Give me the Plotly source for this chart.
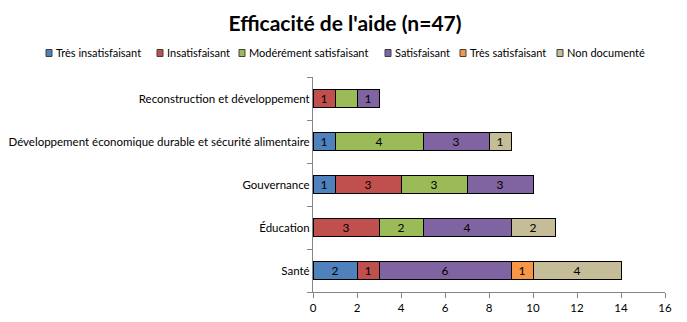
import plotly.graph_objects as go

# Data
categories = [
    "Santé",
    "Éducation",
    "Gouvernance",
    "Développement économique durable et sécurité alimentaire",
    "Reconstruction et développement",
]
series_names = [
    "Très insatisfaisant",
    "Insatisfaisant",
    "Modérément satisfaisant",
    "Satisfaisant",
    "Très satisfaisant",
    "Non documenté",
]
tres_insatisfaisant = [2, 0, 1, 1, 0]
insatisfaisant = [1, 3, 3, 0, 1]
moderement_satisfaisant = [0, 2, 3, 4, 1]
satisfaisant = [6, 4, 3, 3, 1]
tres_satisfaisant = [1, 0, 0, 0, 0]
non_documente = [4, 2, 0, 1, 0]
# label not shown in the original for this cell
hidden_labels = [("Modérément satisfaisant", "Reconstruction et développement")]

series_values = [
    tres_insatisfaisant,
    insatisfaisant,
    moderement_satisfaisant,
    satisfaisant,
    tres_satisfaisant,
    non_documente,
]
colors = ["#4F81BD", "#C0504D", "#9BBB59", "#8064A2", "#F79646", "#C4BD97"]

# page body has an 8px margin, so the figure is drawn 8px in from the corner
OFF = 8
W, H = 687 - OFF, 322 - OFF
L, R, T, B = 313 - OFF, 22, 77 - OFF, 30
FONT = "Lato, Open Sans, sans-serif"


def px_x(px):
    # screen x -> paper coordinate
    return (px - OFF - L) / (W - L - R)


def px_y(py):
    # screen y -> paper coordinate
    return (H - B - (py - OFF)) / (H - T - B)


fig = go.Figure()
for name, vals, col in zip(series_names, series_values, colors):
    texts = []
    for cat, v in zip(categories, vals):
        if v == 0 or (name, cat) in hidden_labels:
            texts.append("")
        else:
            texts.append(str(v))
    fig.add_trace(go.Bar(
        y=categories,
        x=vals,
        name=name,
        orientation="h",
        marker=dict(color=col, line=dict(color="black", width=1)),
        text=texts,
        textposition="inside",
        insidetextanchor="middle",
        textangle=0,
        constraintext="none",
        textfont=dict(color="black", size=12, family=FONT),
        showlegend=False,
    ))

# legend drawn by hand to match the compact Excel layout
legend_x = [46, 157, 239, 385, 460, 557]
legend_y = 53
for name, col, lx in zip(series_names, colors, legend_x):
    fig.add_shape(
        type="rect", xref="paper", yref="paper",
        x0=px_x(lx), x1=px_x(lx + 6),
        y0=px_y(legend_y + 3.5), y1=px_y(legend_y - 3.5),
        fillcolor=col, line=dict(color="#404040", width=1),
    )
    fig.add_annotation(
        text=name, xref="paper", yref="paper",
        x=px_x(lx + 8), y=px_y(legend_y),
        xanchor="left", yanchor="middle", showarrow=False,
        font=dict(size=11, family=FONT, color="black"),
    )

fig.update_layout(
    barmode="stack",
    bargap=0.6,
    width=W,
    height=H,
    paper_bgcolor="white",
    plot_bgcolor="white",
    font=dict(family=FONT, size=11.5, color="black"),
    title=dict(
        text="<b>Efficacité de l'aide (n=47)</b>",
        x=(345 - OFF) / W, xanchor="center", xref="container",
        y=1 - 16 / H, yanchor="middle", yref="container",
        font=dict(size=21, family=FONT),
    ),
    showlegend=False,
    margin=dict(l=L, r=R, t=T, b=B, autoexpand=False),
)
fig.update_xaxes(
    range=[0, 16], dtick=2, showgrid=False, zeroline=False,
    showline=True, linecolor="#868686", ticks="outside", ticklen=5,
    tickcolor="#868686", tickfont=dict(size=11.5), automargin=False,
)
fig.update_yaxes(
    showgrid=False, showline=True, linecolor="#868686",
    ticks="outside", ticklen=5, tickcolor="#868686",
    tickson="boundaries", tickfont=dict(size=11.5), automargin=False,
    categoryorder="array", categoryarray=categories,
)

fig.write_html("out.html")
